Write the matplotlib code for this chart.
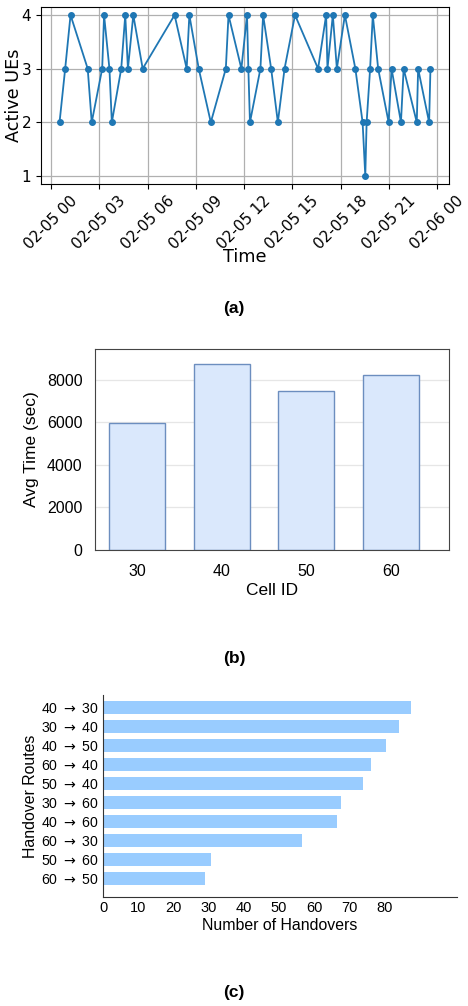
import numpy as np
import pandas as pd
import matplotlib
matplotlib.use("Agg")
import matplotlib.pyplot as plt
import matplotlib.dates as mdates

# (a) active UEs over the day
times = ["00:32", "00:53", "01:13", "02:17", "02:32", "03:11", "03:18", "03:38",
         "03:47", "04:22", "04:37", "04:47", "05:07", "05:42", "07:41", "08:26",
         "08:36", "09:11", "09:56", "10:52", "11:02", "11:50", "12:11", "12:16",
         "12:22", "13:01", "13:11", "13:41", "14:06", "14:31", "15:10", "16:36",
         "17:06", "17:11", "17:31", "17:46", "18:16", "18:55", "19:22", "19:32",
         "19:37", "19:50", "20:00", "20:20", "20:59", "21:10", "21:45", "21:55",
         "22:44", "22:49", "23:30", "23:35"]
active_ues = [2, 3, 4, 3, 2, 3, 4, 3,
              2, 3, 4, 3, 4, 3, 4, 3,
              4, 3, 2, 3, 4, 3, 4, 3,
              2, 3, 4, 3, 2, 3, 4, 3,
              4, 3, 4, 3, 4, 3, 2, 1,
              2, 3, 4, 3, 2, 3, 2, 3,
              2, 3, 2, 3]

# (b) average time per cell
cell_ids = ["30", "40", "50", "60"]
avg_time = [5950, 8720, 7490, 8230]

# (c) handover routes
routes = ["40 $\\rightarrow$ 30", "30 $\\rightarrow$ 40", "40 $\\rightarrow$ 50",
          "60 $\\rightarrow$ 40", "50 $\\rightarrow$ 40", "30 $\\rightarrow$ 60",
          "40 $\\rightarrow$ 60", "60 $\\rightarrow$ 30", "50 $\\rightarrow$ 60",
          "60 $\\rightarrow$ 50"]
n_handovers = [87.5, 84, 80.5, 76, 74, 67.5, 66.5, 56.5, 30.5, 29]

W, H = 468, 1006
fig = plt.figure(figsize=(W / 100, H / 100), dpi=100)
plt.rcParams["mathtext.fontset"] = "dejavusans"


def rect(left, top, right, bottom):
    return [left / W, 1 - bottom / H, (right - left) / W, (bottom - top) / H]


# ---- (a) ----
ts = pd.to_datetime(["2025-02-05 " + t for t in times])
ax1 = fig.add_axes(rect(41, 7, 449, 184))
ax1.plot(ts, active_ues, "-o", color="#1f77b4", lw=1.3, ms=4)
ax1.grid(True, color="#b0b0b0", lw=0.9)
ax1.set_axisbelow(True)
ax1.xaxis.set_major_locator(mdates.HourLocator(byhour=range(0, 24, 3)))
ax1.xaxis.set_major_formatter(mdates.DateFormatter("%m-%d %H"))
ax1.set_yticks([1, 2, 3, 4])
ax1.tick_params(labelsize=11)
for lab in ax1.get_xticklabels():
    lab.set_rotation(45)
ax1.set_xlabel("Time", fontsize=12.7, labelpad=-3)
ax1.set_ylabel("Active UEs", fontsize=12.7, labelpad=-1)

sans = ["Liberation Sans", "DejaVu Sans"]

# ---- (b) ----
ax2 = fig.add_axes(rect(95, 349, 449, 550))
x = np.arange(len(cell_ids))
ax2.bar(x, avg_time, width=0.667, color="#dae8fc", edgecolor="#6c8ebf", lw=1.0, zorder=2)
ax2.set_xlim(-0.5, 3.69)
ax2.set_ylim(0, 9440)
ax2.set_yticks([0, 2000, 4000, 6000, 8000])
ax2.set_xticks(x, cell_ids)
ax2.grid(axis="y", color="#e6e6e6", lw=0.9, zorder=0)
ax2.tick_params(length=0, labelsize=11.5)
ax2.tick_params(axis="y", pad=9)
ax2.tick_params(axis="x", pad=10)
for lab in ax2.get_xticklabels() + ax2.get_yticklabels():
    lab.set_family(sans)
for sp in ax2.spines.values():
    sp.set_color("#444444")
ax2.set_xlabel("Cell ID", fontsize=12.5, family=sans, labelpad=3)
ax2.set_ylabel("Avg Time (sec)", fontsize=12.5, family=sans, labelpad=6)

# ---- (c) ----
ax3 = fig.add_axes(rect(103.3, 695, 457, 897))
y = np.arange(len(routes))
ax3.barh(y, n_handovers, height=0.667, color="#99ccff")
ax3.set_ylim(9.96, -0.65)
ax3.set_xlim(0, 100.6)
ax3.set_xticks(range(0, 90, 10))
ax3.set_yticks(y, routes)
ax3.tick_params(length=0, labelsize=10.5, pad=3)
ax3.tick_params(axis="y", labelsize=10.2)
for lab in ax3.get_xticklabels() + ax3.get_yticklabels():
    lab.set_family(sans)
ax3.spines[["top", "right"]].set_visible(False)
for sp in ("left", "bottom"):
    ax3.spines[sp].set_color("#333333")
ax3.set_xlabel("Number of Handovers", fontsize=11.4, family=sans, labelpad=2)
ax3.set_ylabel("Handover Routes", fontsize=11.4, family=sans, labelpad=2)

for lab, yy in (("(a)", 308), ("(b)", 659), ("(c)", 992)):
    fig.text(234 / W, 1 - yy / H, lab, ha="center", va="center",
             fontsize=12.5, fontweight="bold", family=sans)

fig.savefig("out.png", dpi=100)
